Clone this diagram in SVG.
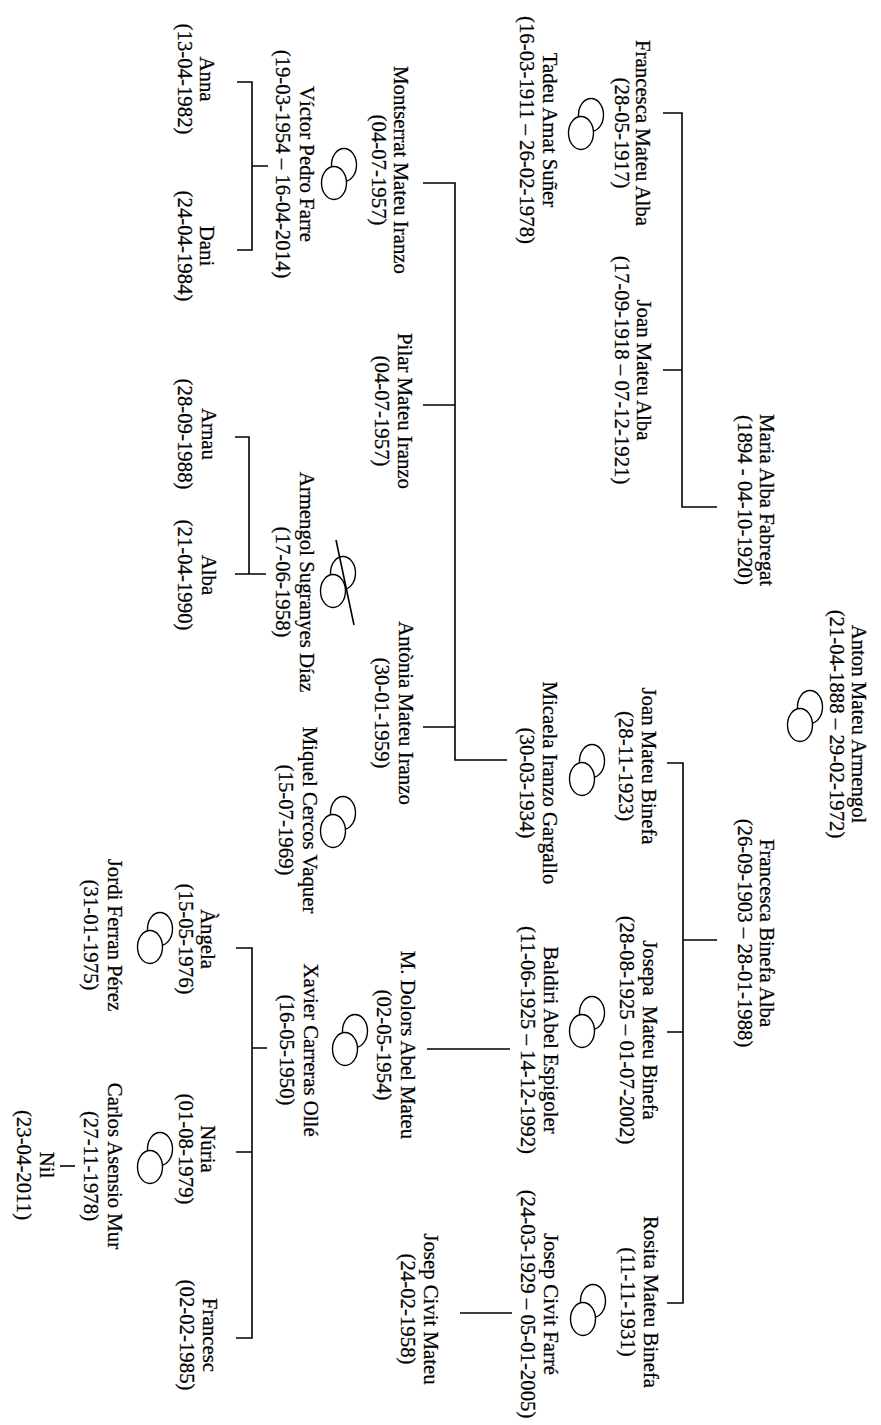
<svg xmlns="http://www.w3.org/2000/svg" width="881" height="1425" viewBox="0 0 881 1425">
<style>
.t{font-family:"Liberation Serif","Times New Roman",serif;font-size:20.8px;text-anchor:middle;fill:#000;stroke:#000;stroke-width:0.25}
.c{stroke:#000;stroke-width:1.6;fill:none}
.r{stroke:#000;stroke-width:1.4;fill:#fff}
</style>
<defs>
<g id="rings"><ellipse class="r" cx="5" cy="-9" rx="12.5" ry="16.5"/><ellipse class="r" cx="-5" cy="9" rx="12.5" ry="16.5"/></g>
</defs>
<rect width="881" height="1425" fill="#fff"/>
<g id="connectors">
<path class="c" d="M717,507 H682 V113 H663 M682,370 H663"/>
<path class="c" d="M717,940 H683 M667,763 H683 V1303 H667 M683,1032 H667"/>
<path class="c" d="M507,760 H455 V183 H423 M455,405 H423 M455,727 H423"/>
<path class="c" d="M510,1049 H427"/>
<path class="c" d="M512,1313 H460"/>
<path class="c" d="M268,166 H252 M237,82 H252 V250 H237"/>
<path class="c" d="M266,574 H235 M235,437 H249 V574"/>
<path class="c" d="M267,1048 H252 M236,948 H252 V1338 H236 M252,1152 H236"/>
<path class="c" d="M75,1166 H60"/>
</g>
<g id="marriages">
<use href="#rings" x="805" y="716"/>
<use href="#rings" x="586" y="124"/>
<use href="#rings" x="587" y="770"/>
<use href="#rings" x="587" y="1022"/>
<use href="#rings" x="588" y="1310"/>
<use href="#rings" x="339" y="174"/>
<g id="divorce"><use href="#rings" x="338" y="582"/><path class="c" d="M336,540 L354,625"/></g>
<use href="#rings" x="338" y="822"/>
<use href="#rings" x="350" y="1040"/>
<use href="#rings" x="155" y="938"/>
<use href="#rings" x="155" y="1158"/>
</g>
<g id="anton" transform="translate(852,724) rotate(90)"><text class="t">Anton Mateu Armengol</text><text class="t" y="22">(21-04-1888 – 29-02-1972)</text></g>
<g id="maria" transform="translate(760,500) rotate(90)"><text class="t">Maria Alba Fabregat</text><text class="t" y="22">(1894 - 04-10-1920)</text></g>
<g id="francesca-binefa" transform="translate(760,933) rotate(90)"><text class="t">Francesca Binefa Alba</text><text class="t" y="22">(26-09-1903 – 28-01-1988)</text></g>
<g id="francesca-mateu" transform="translate(636,133) rotate(90)"><text class="t">Francesca Mateu Alba</text><text class="t" y="21">(28-05-1917)</text></g>
<g id="tadeu" transform="translate(543,130) rotate(90)"><text class="t">Tadeu Amat Suñer</text><text class="t" y="23">(16-03-1911 – 26-02-1978)</text></g>
<g id="joan-alba" transform="translate(637,370) rotate(90)"><text class="t">Joan Mateu Alba</text><text class="t" y="22">(17-09-1918 – 07-12-1921)</text></g>
<g id="joan-binefa" transform="translate(642,766) rotate(90)"><text class="t">Joan Mateu Binefa</text><text class="t" y="23">(28-11-1923)</text></g>
<g id="micaela" transform="translate(543,783) rotate(90)"><text class="t">Micaela Iranzo Gargallo</text><text class="t" y="23">(30-03-1934)</text></g>
<g id="josepa" transform="translate(643,1030) rotate(90)"><text class="t" xml:space="preserve">Josepa  Mateu Binefa</text><text class="t" y="23">(28-08-1925 – 01-07-2002)</text></g>
<g id="baldiri" transform="translate(544,1040) rotate(90)"><text class="t">Baldiri Abel Espigoler</text><text class="t" y="23">(11-06-1925 – 14-12-1992)</text></g>
<g id="rosita" transform="translate(644,1302) rotate(90)"><text class="t">Rosita Mateu Binefa</text><text class="t" y="23">(11-11-1931)</text></g>
<g id="josep-farre" transform="translate(544,1304) rotate(90)"><text class="t">Josep Civit Farré</text><text class="t" y="23">(24-03-1929 – 05-01-2005)</text></g>
<g id="josep-mateu" transform="translate(424,1309) rotate(90)"><text class="t">Josep Civit Mateu</text><text class="t" y="23">(24-02-1958)</text></g>
<g id="montserrat" transform="translate(394,170) rotate(90)"><text class="t">Montserrat Mateu Iranzo</text><text class="t" y="22">(04-07-1957)</text></g>
<g id="victor" transform="translate(300,164) rotate(90)"><text class="t">Víctor Pedro Farre</text><text class="t" y="24">(19-03-1954 – 16-04-2014)</text></g>
<g id="pilar" transform="translate(398,411) rotate(90)"><text class="t">Pilar Mateu Iranzo</text><text class="t" y="23">(04-07-1957)</text></g>
<g id="armengol" transform="translate(300,582) rotate(90)"><text class="t">Armengol Sugranyes Díaz</text><text class="t" y="24">(17-06-1958)</text></g>
<g id="antonia" transform="translate(399,713) rotate(90)"><text class="t">Antònia Mateu Iranzo</text><text class="t" y="24">(30-01-1959)</text></g>
<g id="miquel" transform="translate(303,820) rotate(90)"><text class="t">Miquel Cercos Vaquer</text><text class="t" y="24">(15-07-1969)</text></g>
<g id="dolors" transform="translate(401,1045) rotate(90)"><text class="t">M. Dolors Abel Mateu</text><text class="t" y="24">(02-05-1954)</text></g>
<g id="xavier" transform="translate(304,1050) rotate(90)"><text class="t">Xavier Carreras Ollé</text><text class="t" y="24">(16-05-1950)</text></g>
<g id="anna" transform="translate(200,79) rotate(90)"><text class="t">Anna</text><text class="t" y="22">(13-04-1982)</text></g>
<g id="dani" transform="translate(200,246) rotate(90)"><text class="t">Dani</text><text class="t" y="22">(24-04-1984)</text></g>
<g id="arnau" transform="translate(202,434) rotate(90)"><text class="t">Arnau</text><text class="t" y="24">(28-09-1988)</text></g>
<g id="alba" transform="translate(202,575) rotate(90)"><text class="t">Alba</text><text class="t" y="24">(21-04-1990)</text></g>
<g id="angela" transform="translate(201,939) rotate(90)"><text class="t">Àngela</text><text class="t" y="22">(15-05-1976)</text></g>
<g id="jordi" transform="translate(108,935) rotate(90)"><text class="t">Jordi Ferran Pérez</text><text class="t" y="24">(31-01-1975)</text></g>
<g id="nuria" transform="translate(201,1149) rotate(90)"><text class="t">Núria</text><text class="t" y="22">(01-08-1979)</text></g>
<g id="carlos" transform="translate(108,1166) rotate(90)"><text class="t">Carlos Asensio Mur</text><text class="t" y="24">(27-11-1978)</text></g>
<g id="francesc" transform="translate(203,1335) rotate(90)"><text class="t">Francesc</text><text class="t" y="23">(02-02-1985)</text></g>
<g id="nil" transform="translate(40,1165) rotate(90)"><text class="t">Nil</text><text class="t" y="23">(23-04-2011)</text></g>
</svg>
